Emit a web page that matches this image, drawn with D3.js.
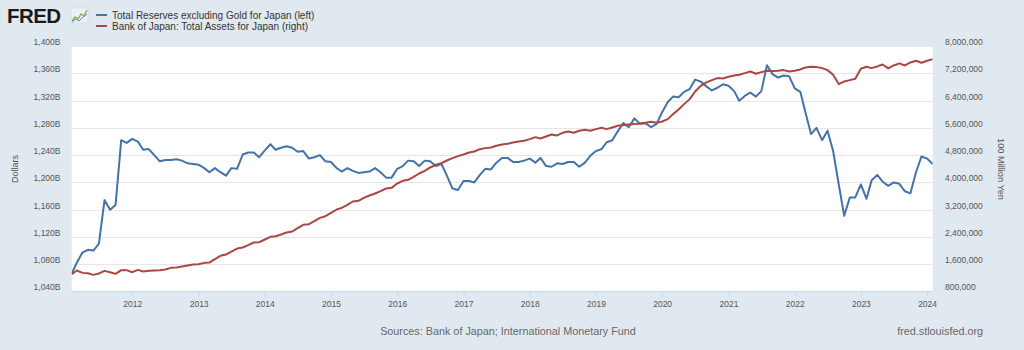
<!DOCTYPE html>
<html>
<head>
<meta charset="utf-8">
<script src="https://cdn.jsdelivr.net/npm/d3@7"></script>
<style>
  html, body { margin: 0; padding: 0; background: #e1e9f0; }
  svg { display: block; font-family: "Liberation Sans", Arial, sans-serif; }
</style>
</head>
<body>
<div id="chart"></div>
<script>
// monthly observations, Feb 2011 .. Feb 2024
const startMonth = new Date(2011, 1, 1);

// Total Reserves excluding Gold for Japan, billions of dollars (left)
const reserves = [
  1066, 1082, 1097, 1101, 1100, 1110, 1174, 1160, 1167, 1262,
  1258, 1264, 1260, 1248, 1249, 1240, 1231, 1233, 1233, 1234,
  1232, 1228, 1227, 1226, 1221, 1215, 1221, 1215, 1210, 1221,
  1220, 1241, 1244, 1244, 1237, 1247, 1256, 1248, 1251, 1253,
  1251, 1245, 1246, 1235, 1237, 1240, 1231, 1230, 1221, 1216,
  1221, 1217, 1214, 1215, 1216, 1221, 1215, 1207, 1207, 1220,
  1224, 1232, 1231, 1224, 1232, 1231, 1224, 1227, 1210, 1191,
  1189, 1202, 1202, 1200, 1211, 1220, 1219, 1229, 1236, 1236,
  1230, 1230, 1232, 1235, 1229, 1236, 1224, 1223, 1228, 1227,
  1230, 1230, 1223, 1229, 1239, 1246, 1249, 1259, 1262, 1275,
  1287, 1281, 1294, 1286, 1287, 1281, 1286, 1303, 1318, 1326,
  1325, 1333, 1337, 1351, 1348, 1341, 1335, 1339, 1344, 1342,
  1334, 1320, 1327, 1332, 1326, 1334, 1372, 1359, 1354, 1357,
  1356, 1338, 1333, 1303, 1271, 1280, 1262, 1276, 1246, 1197,
  1151, 1178, 1178, 1197, 1176, 1203, 1211, 1201, 1195, 1200,
  1198, 1187, 1184, 1215, 1238, 1235, 1227
];

// Bank of Japan total assets, 100 million yen (right)
const bojAssets = [
  1305000, 1413000, 1344000, 1335000, 1286000, 1325000, 1403000, 1364000, 1315000, 1423000,
  1423000, 1364000, 1432000, 1384000, 1403000, 1413000, 1423000, 1442000, 1491000, 1501000,
  1530000, 1560000, 1589000, 1599000, 1638000, 1648000, 1746000, 1844000, 1883000, 1971000,
  2059000, 2089000, 2157000, 2236000, 2245000, 2324000, 2402000, 2421000, 2470000, 2530000,
  2559000, 2657000, 2755000, 2774000, 2862000, 2960000, 3009000, 3107000, 3205000, 3254000,
  3342000, 3440000, 3460000, 3548000, 3616000, 3675000, 3744000, 3822000, 3841000, 3969000,
  4047000, 4076000, 4164000, 4262000, 4341000, 4439000, 4517000, 4566000, 4644000, 4713000,
  4772000, 4821000, 4879000, 4909000, 4977000, 5007000, 5026000, 5075000, 5114000, 5134000,
  5173000, 5203000, 5222000, 5271000, 5330000, 5291000, 5350000, 5408000, 5379000, 5457000,
  5496000, 5457000, 5516000, 5545000, 5516000, 5565000, 5604000, 5565000, 5614000, 5663000,
  5683000, 5702000, 5712000, 5731000, 5751000, 5780000, 5751000, 5790000, 5859000, 6005000,
  6143000, 6299000, 6446000, 6671000, 6838000, 6936000, 7004000, 7063000, 7053000, 7102000,
  7141000, 7161000, 7210000, 7259000, 7190000, 7239000, 7278000, 7269000, 7278000, 7298000,
  7259000, 7278000, 7318000, 7376000, 7396000, 7386000, 7357000, 7298000, 7161000, 6887000,
  6965000, 7004000, 7043000, 7337000, 7396000, 7357000, 7406000, 7464000, 7347000, 7435000,
  7494000, 7435000, 7523000, 7572000, 7513000, 7572000, 7621000
];

const leftTicks = [1040, 1080, 1120, 1160, 1200, 1240, 1280, 1320, 1360, 1400];
const rightTicks = [800000, 1600000, 2400000, 3200000, 4000000, 4800000, 5600000, 6400000, 7200000, 8000000];
const yearTicks = [2012, 2013, 2014, 2015, 2016, 2017, 2018, 2019, 2020, 2021, 2022, 2023, 2024];

const seriesNames = [
  "Total Reserves excluding Gold for Japan (left)",
  "Bank of Japan: Total Assets for Japan (right)"
];
const colors = ["#4572a7", "#aa4643"];

(() => {
  const width = 1024, height = 350;
  const plot = { left: 71.7, right: 932.7, top: 46.2, bottom: 291.4 };

  const months = d3.timeMonth.range(startMonth, d3.timeMonth.offset(startMonth, reserves.length));

  const x = d3.scaleTime()
    .domain([months[0], months[months.length - 1]])
    .range([plot.left, plot.right]);
  const yL = d3.scaleLinear().domain([1040, 1400]).range([plot.bottom, plot.top]);
  const yR = d3.scaleLinear().domain([800000, 8000000]).range([plot.bottom, plot.top]);

  const svg = d3.select("#chart").append("svg")
    .attr("width", width)
    .attr("height", height);

  svg.append("rect")
    .attr("width", width).attr("height", height)
    .attr("fill", "#e1e9f0");

  svg.append("rect")
    .attr("x", plot.left).attr("y", plot.top)
    .attr("width", plot.right - plot.left)
    .attr("height", plot.bottom - plot.top)
    .attr("fill", "#fff");

  // gridlines
  svg.append("g")
    .selectAll("line")
    .data(leftTicks.slice(1))
    .join("line")
    .attr("x1", plot.left).attr("x2", plot.right)
    .attr("y1", d => Math.round(yL(d)) + 0.5)
    .attr("y2", d => Math.round(yL(d)) + 0.5)
    .attr("stroke", "#e6e6e6");

  // x axis line + ticks
  svg.append("line")
    .attr("x1", plot.left).attr("x2", plot.right)
    .attr("y1", plot.bottom).attr("y2", plot.bottom)
    .attr("stroke", "#ccd6eb");

  const xAxis = d3.axisBottom(x)
    .tickValues(yearTicks.map(y => new Date(y, 0, 1)))
    .tickFormat(d3.timeFormat("%Y"))
    .tickSize(5)
    .tickPadding(5);

  svg.append("g")
    .attr("transform", `translate(0,${plot.bottom})`)
    .call(xAxis)
    .call(g => g.select(".domain").remove())
    .call(g => g.selectAll("line").attr("stroke", "#ccd6eb"))
    .call(g => g.selectAll("text")
      .attr("fill", "#555")
      .style("font-size", "8.5px")
      .style("font-family", "'Liberation Sans', Arial, sans-serif"));

  // left axis labels
  const fmtB = d => d3.format(",")(d) + "B";
  svg.append("g")
    .selectAll("text")
    .data(leftTicks)
    .join("text")
    .attr("x", 60.5)
    .attr("y", d => yL(d) - 1)
    .attr("text-anchor", "end")
    .attr("fill", "#555")
    .style("font-size", "8.5px")
    .text(fmtB);

  svg.append("g")
    .selectAll("text")
    .data(rightTicks)
    .join("text")
    .attr("x", 945)
    .attr("y", d => yR(d) - 1)
    .attr("text-anchor", "start")
    .attr("fill", "#555")
    .style("font-size", "8.5px")
    .text(d3.format(","));

  svg.append("text")
    .attr("transform", "translate(17.5,169) rotate(-90)")
    .attr("text-anchor", "middle")
    .attr("fill", "#555")
    .style("font-size", "9px")
    .text("Dollars");

  svg.append("text")
    .attr("transform", "translate(998,169) rotate(90)")
    .attr("text-anchor", "middle")
    .attr("fill", "#555")
    .style("font-size", "9.2px")
    .text("100 Million Yen");

  // lines
  const clip = svg.append("clipPath").attr("id", "plotclip")
    .append("rect")
    .attr("x", plot.left).attr("y", plot.top - 2)
    .attr("width", plot.right - plot.left)
    .attr("height", plot.bottom - plot.top + 4);

  const lineL = d3.line().x((d, i) => x(months[i])).y(d => yL(d));
  const lineR = d3.line().x((d, i) => x(months[i])).y(d => yR(d));

  const lines = svg.append("g").attr("clip-path", "url(#plotclip)");
  lines.append("path")
    .datum(reserves)
    .attr("d", lineL)
    .attr("fill", "none")
    .attr("stroke", colors[0])
    .attr("stroke-width", 2)
    .attr("stroke-linejoin", "round");

  lines.append("path")
    .datum(bojAssets)
    .attr("d", lineR)
    .attr("fill", "none")
    .attr("stroke", colors[1])
    .attr("stroke-width", 2)
    .attr("stroke-linejoin", "round");

  // FRED logo
  svg.append("text")
    .attr("x", 7).attr("y", 23)
    .attr("fill", "#1a1a1a")
    .style("font-size", "20.5px")
    .style("font-weight", "bold")
    .style("letter-spacing", "-0.6px")
    .text("FRED");
  svg.append("rect")
    .attr("x", 71).attr("y", 8).attr("width", 17).attr("height", 15)
    .attr("fill", "#edf1f4").attr("stroke", "#c9d2da").attr("stroke-width", 0.5);
  svg.append("polyline")
    .attr("points", "72,21 75,17 78,19 81,14 84,16 87,10")
    .attr("fill", "none").attr("stroke", "#7fb24a").attr("stroke-width", 1.3);
  svg.append("polyline")
    .attr("points", "72,22 76,19 79,21 83,17 87,14")
    .attr("fill", "none").attr("stroke", "#5b8fc7").attr("stroke-width", 1);

  // legend
  const legend = svg.append("g")
    .selectAll("g")
    .data(seriesNames)
    .join("g")
    .attr("transform", (d, i) => `translate(96,${15 + i * 11})`);
  legend.append("line")
    .attr("x1", 0).attr("x2", 11)
    .attr("stroke", (d, i) => colors[i])
    .attr("stroke-width", 2);
  legend.append("text")
    .attr("x", 16).attr("y", 3.6)
    .attr("fill", "#333")
    .style("font-size", "10px")
    .text(d => d);

  // footer
  svg.append("text")
    .attr("x", 508).attr("y", 335)
    .attr("text-anchor", "middle")
    .attr("fill", "#666")
    .style("font-size", "10.8px")
    .text("Sources: Bank of Japan; International Monetary Fund");

  svg.append("text")
    .attr("x", 983).attr("y", 335)
    .attr("text-anchor", "end")
    .attr("fill", "#666")
    .style("font-size", "10.8px")
    .text("fred.stlouisfed.org");
})();
</script>
</body>
</html>
